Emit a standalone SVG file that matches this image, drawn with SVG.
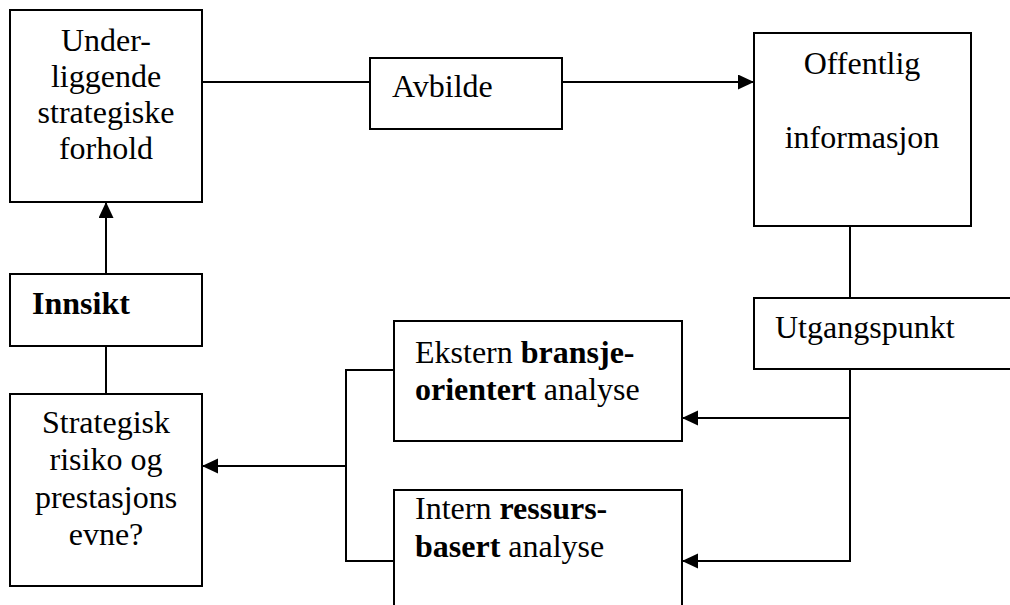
<svg xmlns="http://www.w3.org/2000/svg" width="1010" height="605" viewBox="0 0 1010 605">
<style>
.box{fill:#fff;stroke:#000;stroke-width:2}
.ln{fill:none;stroke:#000;stroke-width:2}
.t{font-family:"Liberation Serif","Times New Roman",serif;font-size:32px;fill:#000}
.c{text-anchor:middle}
.b{font-weight:bold}
</style>
<defs>
<marker id="arr" markerUnits="userSpaceOnUse" markerWidth="17" markerHeight="16" refX="16" refY="7.5" orient="auto">
<path d="M0,0 L16,7.5 L0,15 z" fill="#000"/>
</marker>
</defs>
<rect width="1010" height="605" fill="#fff"/>
<g id="connectors">
<line class="ln" x1="202" y1="82" x2="370" y2="82"/>
<line class="ln" x1="562" y1="82" x2="754" y2="82" marker-end="url(#arr)"/>
<line class="ln" x1="850" y1="226" x2="850" y2="298"/>
<polyline class="ln" points="850,369 850,561 682,561" marker-end="url(#arr)"/>
<line class="ln" x1="850" y1="418" x2="682" y2="418" marker-end="url(#arr)"/>
<polyline class="ln" points="394,370 346,370 346,561 394,561"/>
<line class="ln" x1="346" y1="466" x2="202" y2="466" marker-end="url(#arr)"/>
<line class="ln" x1="106" y1="274" x2="106" y2="202" marker-end="url(#arr)"/>
<line class="ln" x1="106" y1="346" x2="106" y2="394"/>
</g>
<g id="underliggende">
<rect class="box" x="10" y="10" width="192" height="192"/>
<text class="t c" x="106" y="51">Under-</text>
<text class="t c" x="106" y="87">liggende</text>
<text class="t c" x="106" y="123">strategiske</text>
<text class="t c" x="106" y="159">forhold</text>
</g>
<g id="avbilde">
<rect class="box" x="370" y="58" width="192" height="71"/>
<text class="t" x="392" y="97">Avbilde</text>
</g>
<g id="offentlig">
<rect class="box" x="754" y="33" width="217" height="193"/>
<text class="t c" x="862" y="74">Offentlig</text>
<text class="t c" x="862" y="148">informasjon</text>
</g>
<g id="utgangspunkt">
<rect class="box" x="754" y="298" width="280" height="71"/>
<text class="t" x="775" y="338">Utgangspunkt</text>
</g>
<g id="ekstern">
<rect class="box" x="394" y="321" width="288" height="120"/>
<text class="t" x="415" y="363">Ekstern <tspan class="b">bransje-</tspan></text>
<text class="t" x="415" y="400"><tspan class="b">orientert</tspan> analyse</text>
</g>
<g id="intern">
<rect class="box" x="394" y="490" width="288" height="150"/>
<text class="t" x="415" y="519">Intern <tspan class="b">ressurs-</tspan></text>
<text class="t" x="415" y="557"><tspan class="b">basert</tspan> analyse</text>
</g>
<g id="innsikt">
<rect class="box" x="10" y="274" width="192" height="72"/>
<text class="t b" x="32" y="314">Innsikt</text>
</g>
<g id="strategisk">
<rect class="box" x="10" y="394" width="192" height="192"/>
<text class="t c" x="106" y="433">Strategisk</text>
<text class="t c" x="106" y="470">risiko og</text>
<text class="t c" x="106" y="508">prestasjons</text>
<text class="t c" x="106" y="545">evne?</text>
</g>
</svg>
